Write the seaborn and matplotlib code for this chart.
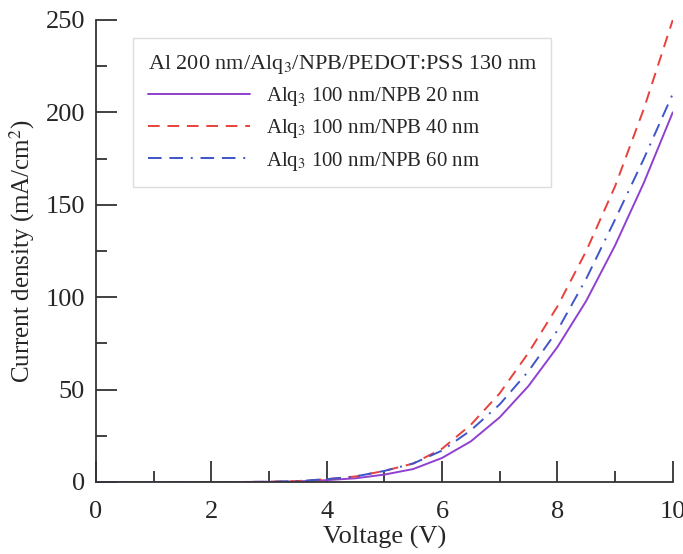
import numpy as np
import pandas as pd
import seaborn as sns
import matplotlib.pyplot as plt
from matplotlib.ticker import MultipleLocator

# voltage grid (V)
voltage = [0, 0.5, 1, 1.5, 2, 2.5, 3, 3.5, 4, 4.5, 5, 5.5, 6, 6.5, 7, 7.5, 8, 8.5, 9, 9.5, 10]

# current density (mA/cm2)
j_npb20 = [0, 0, 0, 0, 0, 0, 0.1, 0.3, 1, 2, 4, 7, 13, 22, 35, 52, 73, 98, 128, 162, 200]
j_npb40 = [0, 0, 0, 0, 0, 0, 0.1, 0.5, 1.5, 3, 6, 10, 18, 31, 48, 70, 95, 125, 160, 202, 250]
j_npb60 = [0, 0, 0, 0, 0, 0, 0.1, 0.5, 1.5, 3, 6, 10, 17, 28, 42, 60, 82, 110, 142, 175, 210]

labels = [
    r"Alq$_3$ 100 nm/NPB 20 nm",
    r"Alq$_3$ 100 nm/NPB 40 nm",
    r"Alq$_3$ 100 nm/NPB 60 nm",
]
legend_title = r"Al 200 nm/Alq$_3$/NPB/PEDOT:PSS 130 nm"

df = pd.concat(
    [
        pd.DataFrame({"V": voltage, "J": j, "device": lab})
        for j, lab in zip([j_npb20, j_npb40, j_npb60], labels)
    ],
    ignore_index=True,
)

sns.set_style("ticks")
plt.rcParams["font.family"] = ["Liberation Serif", "DejaVu Serif"]
plt.rcParams["mathtext.fontset"] = "stix"

palette = {labels[0]: "#9040d0", labels[1]: "#e8413c", labels[2]: "#3f55c8"}
dashes = {labels[0]: "", labels[1]: (6, 4), labels[2]: (7, 4, 7, 4, 1, 4)}

fig = plt.figure(figsize=(6.83, 5.54), dpi=100)
ax = fig.add_axes([0.1406, 0.130, 0.8444, 0.834])

sns.lineplot(
    data=df, x="V", y="J", hue="device", style="device",
    palette=palette, dashes=dashes, linewidth=1.4, ax=ax,
)

ax.set_xlim(0, 10)
ax.set_ylim(0, 250)
ax.xaxis.set_major_locator(MultipleLocator(2))
ax.xaxis.set_minor_locator(MultipleLocator(1))
ax.yaxis.set_major_locator(MultipleLocator(50))
ax.yaxis.set_minor_locator(MultipleLocator(25))
ax.tick_params(which="major", direction="in", length=15, width=1.3,
               labelsize=19, pad=8, color="#333333")
ax.tick_params(axis="x", which="major", pad=14)
ax.tick_params(which="minor", direction="in", length=8, width=1.3, color="#333333")
sns.despine(ax=ax)
for s in ["left", "bottom"]:
    ax.spines[s].set_linewidth(1.3)
    ax.spines[s].set_color("#333333")

ax.set_xlabel("Voltage (V)", fontsize=19, labelpad=2)
ax.set_ylabel(r"Current density (mA/cm$^2$)", fontsize=18, labelpad=6)

handles, _ = ax.get_legend_handles_labels()
leg = ax.legend(
    handles, labels, title=legend_title, loc="upper left",
    bbox_to_anchor=(0.064, 0.961), borderaxespad=0, fontsize=15,
    title_fontsize=16, handlelength=4.9, fancybox=False,
    edgecolor="#dddddd", framealpha=1, alignment="left",
    borderpad=0.7, labelspacing=0.45,
)

fig.savefig("out.png", dpi=100)
